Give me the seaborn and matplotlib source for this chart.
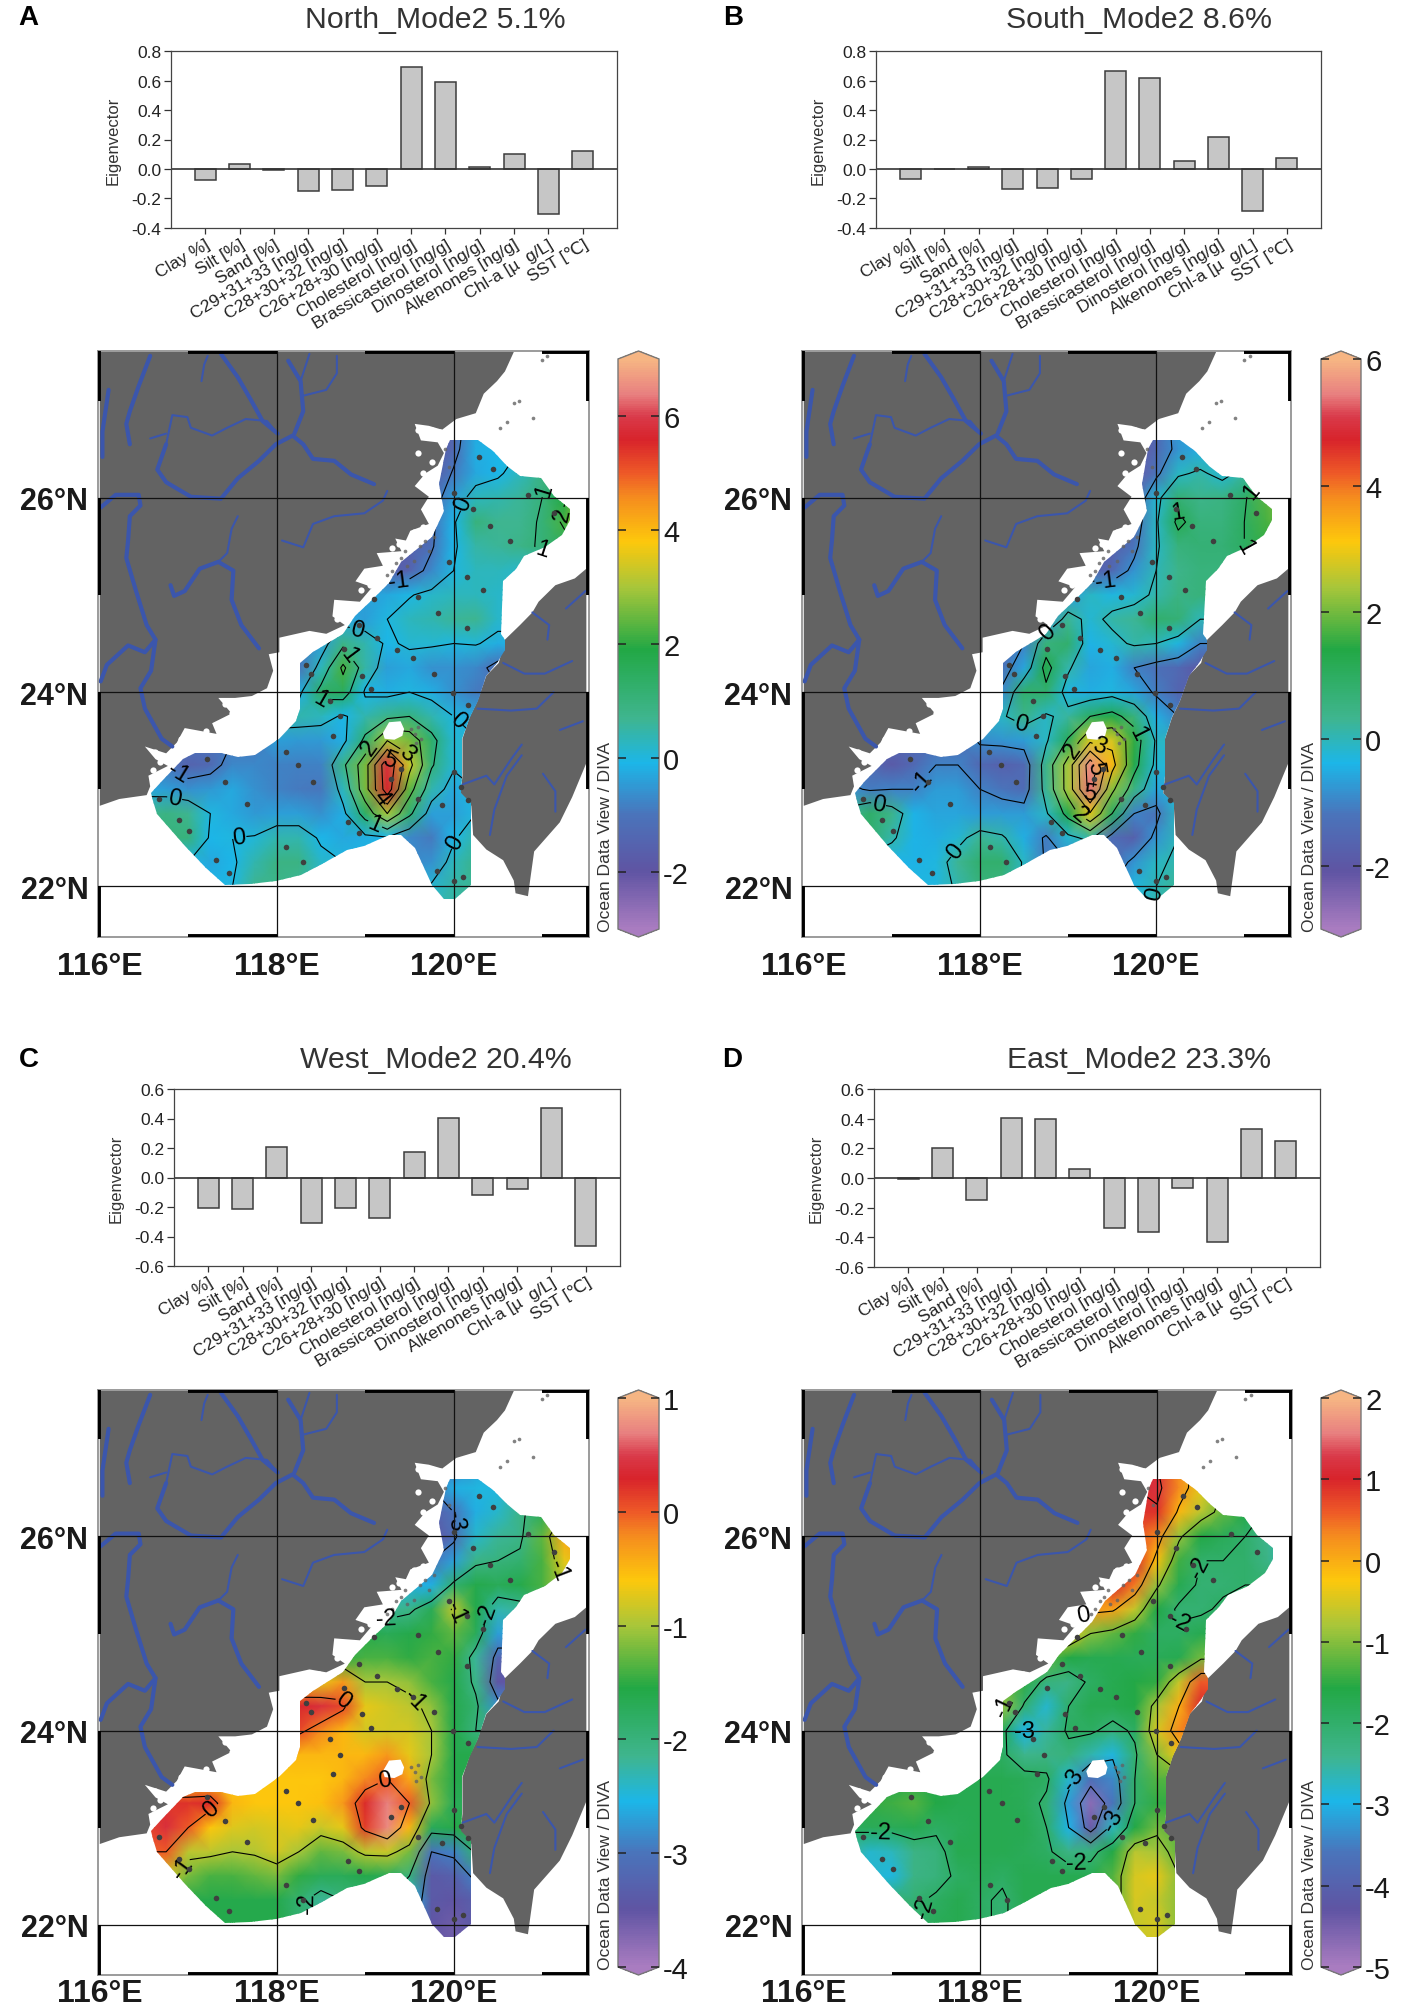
import matplotlib
matplotlib.use('Agg')
import matplotlib.pyplot as plt
import numpy as np
import pandas as pd
import seaborn as sns
from matplotlib.cm import ScalarMappable
from matplotlib.colors import LinearSegmentedColormap, Normalize
from matplotlib.patches import Polygon

sns.set_style('white')
plt.rcParams['font.family'] = ['Liberation Sans', 'DejaVu Sans']
plt.rcParams['axes.unicode_minus'] = False

W, H = 1417, 2015

# Bar charts
variables = ['Clay %]', 'Silt [%]', 'Sand [%]', 'C29+31+33 [ng/g]', 'C28+30+32 [ng/g]',
             'C26+28+30 [ng/g]', 'Cholesterol [ng/g]', 'Brassicasterol [ng/g]',
             'Dinosterol [ng/g]', 'Alkenones [ng/g]', 'Chl-a [µ  g/L]', 'SST [℃]']
north_bars = [-0.075, 0.035, -0.008, -0.147, -0.143, -0.113, 0.69, 0.59, 0.013, 0.102, -0.305, 0.122]
south_bars = [-0.065, 0.002, 0.015, -0.133, -0.127, -0.07, 0.667, 0.615, 0.052, 0.217, -0.283, 0.077]
west_bars = [-0.21, -0.215, 0.205, -0.31, -0.21, -0.275, 0.175, 0.405, -0.12, -0.075, 0.47, -0.465]
east_bars = [-0.01, 0.205, -0.145, 0.405, 0.40, 0.06, -0.34, -0.365, -0.07, -0.43, 0.33, 0.25]

# Field values, rows from north to south
grid_lon = [116.5, 116.75, 117, 117.25, 117.5, 117.75, 118, 118.25, 118.5, 118.75, 119,
            119.25, 119.5, 119.75, 120, 120.25, 120.5, 120.75, 121, 121.25, 121.5]
grid_lat = [26.75, 26.5, 26.25, 26, 25.75, 25.5, 25.25, 25, 24.75, 24.5, 24.25, 24,
            23.75, 23.5, 23.25, 23, 22.75, 22.5, 22.25, 22, 21.75]

north_field = [
    [-1, -1, -1, -1, -1, -1, -1, -1, -1, -1, -1, -1.5, -2, -2, -1.5, -.3, 0, 0, 0, 0, 0],
    [-1, -1, -1, -1, -1, -1, -1, -1, -1, -1, -1, -1.5, -2, -2, -1.3, -.2, -.1, 0, .3, .6, 1],
    [-1, -1, -1, -1, -1, -1, -1, -1, -1, -1, -1, -1.5, -1.8, -1.8, -.9, -.3, -.1, .3, .9, 1.2, 2],
    [-1, -1, -1, -1, -1, -1, -1, -1, -1, -1, -1, -1.5, -1.6, -1.5, -.4, .3, .4, .6, 1, 1.9, 3],
    [-1, -1, -1, -1, -1, -1, -1, -1, -1, -1, -1, -1.5, -1.5, -1.2, -.1, 1, .7, .7, 1.1, 2.2, 3.5],
    [-1, -1, -1, -1, -1, -1, -1, -1, -1, -1, -1.5, -2, -1.6, -1.1, -.1, .5, .6, .8, 1.1, 1.5, 1.5],
    [-1, -1, -1, -1, -1, -1, -1, -1, -1, -1, -1.2, -1.6, -1.5, -.7, 0, .3, .3, .2, .2, .2, .2],
    [-.5, -.5, -.5, -.5, -.5, -.5, -.5, -.5, -.5, -.5, -.4, -.3, -.05, .2, .3, .3, .2, .2, .2, .2, .2],
    [-.3, -.3, -.3, -.3, -.3, -.3, -.3, -.3, -.3, -.3, -.4, 0, .3, .4, .6, .7, .2, .2, .2, .2, .2],
    [-.8, -.8, -.8, -.8, -.8, -.8, -.8, -.8, -.4, .8, .4, -.1, .1, .1, 0, .05, -.2, -.2, -.2, -.2, -.2],
    [-1, -1, -1, -1, -1, -1, -1, -1, .3, 2.2, .5, -.4, -.3, -.6, -.6, -.7, -1.3, -1.3, -1.3, -1.3, -1.3],
    [-.2, -.2, -.2, -.2, -.2, -.2, -.2, -.2, 1.3, 1.5, -.1, -.2, 0, -.2, -.6, -.9, -.9, -.9, -.9, -.9, -.9],
    [.4, .4, .4, .4, .4, .4, .4, .4, .3, -.1, .4, .8, 1, .4, 0, -.3, -.3, -.3, -.3, -.3, -.3],
    [-1, -1, -1, -1, -1, -1, -.4, -.5, -.5, -.2, 1.2, 3, 2.6, 1.3, .1, .05, .05, .05, .05, .05, .05],
    [-1, -1, -1.5, -1.3, -.7, -.7, -.8, -.85, -.8, .8, 2.6, 5.8, 3.3, 1.1, .1, .1, .1, .1, .1, .1, .1],
    [-.3, -.4, -.6, -.5, -.3, -.6, -.8, -.9, -.95, .3, 2.6, 5.6, 2.4, .4, -.3, 0, 0, 0, 0, 0, 0],
    [.7, .9, .7, 0, -.3, -.5, -.4, -.4, -.6, -.2, 1.4, 3, 1.2, -.4, -.4, 0, 0, 0, 0, 0, 0],
    [1, 1, 1, -.1, 0, .05, .4, .4, -.1, -.3, -.2, -.1, -.7, -.9, -.1, .5, .5, .5, .5, .5, .5],
    [0, 0, 0, -.3, -.1, .4, .9, .9, .2, 0, 0, 0, -.7, -.6, .3, .8, .8, .8, .8, .8, .8],
    [0, 0, 0, -.1, 0, .7, .8, .6, .3, 0, 0, 0, 0, .1, .5, .7, .7, .7, .7, .7, .7],
    [0, 0, 0, -.1, 0, .7, .8, .6, .3, 0, 0, 0, 0, .4, .5, .7, .7, .7, .7, .7, .7],
]

south_field = [
    [-1, -1, -1, -1, -1, -1, -1, -1, -1, -1, -1, -1.5, -2, -2.3, -1.5, -.7, -.5, -.3, -.3, -.3, -.3],
    [-1, -1, -1, -1, -1, -1, -1, -1, -1, -1, -1, -1.5, -2, -2.2, -1.5, -.8, -.5, -.3, 0, .3, .3],
    [-1, -1, -1, -1, -1, -1, -1, -1, -1, -1, -1, -1.5, -2, -2.2, -1.2, -.1, .1, -.2, .2, 1, 2],
    [-1, -1, -1, -1, -1, -1, -1, -1, -1, -1, -1, -1.5, -1.8, -1.8, -.2, .7, .4, .5, .9, 1.8, 2.5],
    [-1, -1, -1, -1, -1, -1, -1, -1, -1, -1, -1, -1.5, -1.6, -1.5, -.1, 1.2, .6, .6, 1, 1.7, 2],
    [-1, -1, -1, -1, -1, -1, -1, -1, -1, -1, -1.5, -2, -1.8, -1.2, -.1, .6, .7, .7, 1, 1.5, 1.5],
    [-1, -1, -1, -1, -1, -1, -1, -1, -1, -1, -1.1, -1.7, -1.5, -.8, 0, .4, .6, .6, .6, .6, .6],
    [-.8, -.8, -.8, -.8, -.8, -.8, -.8, -.8, -.8, -.8, -.7, -.1, -.3, -.2, .1, .5, .6, .6, .6, .6, .6],
    [-.8, -.8, -.8, -.8, -.8, -.8, -.8, -.8, -.8, -.8, .3, -.2, .15, .3, .8, .7, 0, 0, 0, 0, 0],
    [-1.5, -1.5, -1.5, -1.5, -1.5, -1.5, -1.5, -1.5, -1, .6, .8, -.4, -.2, .1, 0, -.3, -1, -1, -1, -1, -1],
    [-1.3, -1.3, -1.3, -1.3, -1.3, -1.3, -1.3, -1.3, -.6, 1.3, .1, -.6, -.5, -1, -1.3, -1.5, -2, -2, -2, -2, -2],
    [-.9, -.9, -.9, -.9, -.9, -.9, -.9, -.9, .8, .8, -.3, -.5, -.3, -.6, -1.1, -1.6, -1.6, -1.6, -1.6, -1.6, -1.6],
    [-.1, -.1, -.1, -.1, -.1, -.1, -.1, -.1, .4, -.1, .2, 1, 1.3, .6, -.5, -1, -1, -1, -1, -1, -1],
    [-1.5, -1.5, -1.5, -1.5, -1.5, -1.5, -.9, -.8, -.7, -.1, 1.1, 2.8, 2.8, 1.5, -.1, -.1, -.1, -.1, -.1, -.1, -.1],
    [-1.5, -1.5, -1.9, -1.5, -1, -1, -1.5, -1.7, -1.5, .4, 2.4, 5.6, 3.3, 1.3, -.2, -.3, -.3, -.3, -.3, -.3, -.3],
    [-.8, -1.1, -1, -1, -.7, -.7, -1, -1.2, -1.4, .3, 2.4, 5.4, 2.2, .5, -.6, -.3, -.3, -.3, -.3, -.3, -.3],
    [.3, .9, .4, -.4, -.6, -.6, -.7, -.7, -.7, -.1, 1.3, 2.9, 1, -1, -1.2, -.1, -.1, -.1, -.1, -.1, -.1],
    [.8, .8, .1, -.4, -.5, -.2, .3, .1, -.5, -1.1, -.2, .2, -1.4, -1.7, -.8, 0, 0, 0, 0, 0, 0],
    [-.4, -.4, -.4, -.4, -.3, .3, .8, .8, -.1, -1.1, -1, -1, -1.5, -.8, -.1, .1, .1, .1, .1, .1, .1],
    [-.3, -.3, -.3, -.3, -.3, .1, .6, .5, -.1, -1, -1, -1, -1, -.3, 0, .3, .3, .3, .3, .3, .3],
    [-.3, -.3, -.3, -.3, -.3, .1, .6, .5, -.1, -1, -1, -1, -1, -.3, .1, .3, .3, .3, .3, .3, .3],
]

west_field = [
    [-2, -2, -2, -2, -2, -2, -2, -2, -2, -2, -2, -2, -3, -3, -3, -2.7, -2.5, -2.5, -2, -2, -2],
    [-2, -2, -2, -2, -2, -2, -2, -2, -2, -2, -2, -2, -3, -3, -2.6, -2.5, -2.5, -2.2, -1.6, -1.6, -1.6],
    [-2, -2, -2, -2, -2, -2, -2, -2, -2, -2, -2, -2, -3, -3.3, -3, -2.6, -2.4, -2.1, -1.7, -1, -.3],
    [-2, -2, -2, -2, -2, -2, -2, -2, -2, -2, -2, -2, -3.2, -3.5, -3.1, -2.4, -2.2, -2.1, -1.3, -.4, -.2],
    [-2, -2, -2, -2, -2, -2, -2, -2, -2, -2, -2, -2, -3, -3, -2.7, -2.1, -2, -1.9, -1.4, -.7, -.5],
    [-2, -2, -2, -2, -2, -2, -2, -2, -2, -2, -2.5, -2.5, -2.6, -2.6, -1.9, -1.6, -1.7, -1.6, -1.4, -1, -1],
    [-2, -2, -2, -2, -2, -2, -2, -2, -2, -2, -2.2, -2.2, -2.1, -1.7, -.9, -1.6, -2.3, -2.2, -2, -2, -2],
    [-2, -2, -2, -2, -2, -2, -2, -2, -2, -2, -1.6, -1.7, -1.6, -1.5, -1.3, -1.7, -2.7, -2.7, -2.7, -2.7, -2.7],
    [-1.5, -1.5, -1.5, -1.5, -1.5, -1.5, -1.5, -1.5, -1.5, -1.5, -1.4, -1.4, -1.5, -1.4, -1.5, -2.2, -3.2, -3.2, -3.2, -3.2, -3.2],
    [-.5, -.5, -.5, -.5, -.5, -.5, -.5, -.5, -.7, -.3, -1, -1, -1.1, -1.4, -1.6, -2.1, -3.5, -3.5, -3.5, -3.5, -3.5],
    [.3, .3, .3, .3, .3, .3, .3, .3, .4, .1, -.7, -.8, -.9, -1.1, -1.6, -1.9, -2.8, -2.8, -2.8, -2.8, -2.8],
    [.1, .1, .1, .1, .1, .1, .1, .1, -.2, -.5, -.8, -.8, -.8, -1, -1.6, -2, -2, -2, -2, -2, -2],
    [-.5, -.5, -.5, -.5, -.5, -.5, -.5, -.5, -.5, -.5, -.5, -.3, -.7, -1, -1.6, -1.6, -1.6, -1.6, -1.6, -1.6, -1.6],
    [-.6, -.6, -.6, -.6, -.6, -.6, -.6, -.6, -.6, -.5, -.2, 0, -.4, -1.2, -1.6, -1.6, -1.6, -1.6, -1.6, -1.6, -1.6],
    [.2, .2, .2, .25, -.5, -.6, -.6, -.6, -.55, -.3, .25, .7, 0, -1.1, -1.7, -1.7, -1.7, -1.7, -1.7, -1.7, -1.7],
    [.1, .4, 0, -.6, -.75, -.8, -.75, -.7, -.85, -.7, .15, .75, -.5, -1.7, -1.6, -1.5, -1.5, -1.5, -1.5, -1.5, -1.5],
    [0, 0, -.9, -.9, -1, -.95, -.8, -1, -1.3, -1.2, -.9, -.85, -1.2, -3, -2.9, -1.9, -1.9, -1.9, -1.9, -1.9, -1.9],
    [-.8, -.8, -1.2, -1.4, -1.4, -1.3, -1.2, -1.5, -1.7, -1.7, -1.6, -1.7, -2, -3.4, -3.3, -2.9, -2.9, -2.9, -2.9, -2.9, -2.9],
    [-1.6, -1.6, -1.6, -1.6, -1.6, -1.6, -1.6, -1.9, -2.2, -2, -2, -2, -2.5, -3.4, -3.5, -3.3, -3.3, -3.3, -3.3, -3.3, -3.3],
    [-1.6, -1.6, -1.6, -1.6, -1.6, -1.6, -1.6, -1.9, -2, -2, -2, -2, -2.5, -3.5, -3.6, -3.4, -3.4, -3.4, -3.4, -3.4, -3.4],
    [-1.6, -1.6, -1.6, -1.6, -1.6, -1.6, -1.6, -1.9, -2, -2, -2, -2, -2.5, -3.5, -3.6, -3.4, -3.4, -3.4, -3.4, -3.4, -3.4],
]

east_field = [
    [0, 0, 0, 0, 0, 0, 0, 0, 0, 0, 0, 0, 1, 1.2, 1, .3, -.3, -1, -1, -1, -1],
    [0, 0, 0, 0, 0, 0, 0, 0, 0, 0, 0, 0, 1, 1, 1.2, .3, -.4, -1, -1.3, -1.3, -1.3],
    [0, 0, 0, 0, 0, 0, 0, 0, 0, 0, 0, 0, 1, .9, .9, -.1, -.7, -1.2, -1.6, -2.1, -2.6],
    [0, 0, 0, 0, 0, 0, 0, 0, 0, 0, 0, 0, 1, .7, .3, -.9, -1.6, -1.8, -2, -2.4, -2.8],
    [0, 0, 0, 0, 0, 0, 0, 0, 0, 0, 0, 0, 1, 1, -.2, -1.4, -2, -2, -2, -2.3, -2.7],
    [0, 0, 0, 0, 0, 0, 0, 0, 0, 0, 0, 0, 1, .4, -.9, -1.7, -2.1, -2.1, -2, -2, -2],
    [0, 0, 0, 0, 0, 0, 0, 0, 0, 0, .2, .2, .1, -.6, -1.6, -2.1, -2.1, -1.9, -1.9, -1.9, -1.9],
    [-.3, -.3, -.3, -.3, -.3, -.3, -.3, -.3, -.3, -.3, -.4, -1, -1.2, -1.5, -1.9, -1.9, -1.7, -1.7, -1.7, -1.7, -1.7],
    [-1.2, -1.2, -1.2, -1.2, -1.2, -1.2, -1.2, -1.2, -1.2, -1.2, -1.6, -1.7, -1.7, -1.8, -1.8, -1.7, -1.1, -1.1, -1.1, -1.1, -1.1],
    [-1.2, -1.2, -1.2, -1.2, -1.2, -1.2, -1.2, -1.2, -1.5, -2.2, -2.3, -1.9, -1.7, -1.6, -1.5, -.6, .6, .6, .6, .6, .6],
    [-.9, -.9, -.9, -.9, -.9, -.9, -.9, -.9, -2.1, -2.8, -2, -1.7, -1.7, -1.6, -.8, 0, 1, 1, 1, 1, 1],
    [-1.8, -1.8, -1.8, -1.8, -1.8, -1.8, -1.8, -1.8, -3, -2.5, -1.9, -1.9, -2.2, -1.9, -.5, .3, .5, .5, .5, .5, .5],
    [-1.9, -1.9, -1.9, -1.9, -1.9, -1.9, -1.9, -1.9, -2.4, -2.3, -2.2, -2.6, -2.9, -2.1, -1, -.3, -.3, -.3, -.3, -.3, -.3],
    [-1.7, -1.7, -1.7, -1.7, -1.7, -1.7, -1.7, -1.7, -1.8, -1.9, -2.8, -3.7, -3.4, -2, -1.3, -1.3, -1.3, -1.3, -1.3, -1.3, -1.3],
    [-1.5, -1.5, -1.4, -1.3, -1.6, -1.7, -1.7, -1.7, -1.8, -2.1, -3.2, -4.7, -3.6, -2, -1.5, -1.5, -1.5, -1.5, -1.5, -1.5, -1.5],
    [-1.9, -1.8, -1.8, -1.7, -1.9, -1.8, -1.7, -1.7, -1.7, -2, -3, -4.4, -2.7, -1.6, -1.1, -1.2, -1.2, -1.2, -1.2, -1.2, -1.2],
    [-2.4, -2.8, -2.7, -2.3, -2.2, -1.7, -1.7, -1.7, -1.8, -1.9, -2.3, -2.2, -1.6, -.7, -.8, -1.2, -1.2, -1.2, -1.2, -1.2, -1.2],
    [-2.8, -2.8, -2.9, -2.3, -2.2, -1.9, -1.8, -1.9, -1.7, -1.7, -1.7, -1.7, -1.3, -.5, -.4, -1, -1, -1, -1, -1, -1],
    [-2.1, -2.1, -2.1, -2.1, -1.9, -1.7, -1.9, -2.1, -1.7, -1.7, -1.7, -1.7, -1.3, -.5, -.6, -1, -1, -1, -1, -1, -1],
    [-2.1, -2.1, -2.1, -2.1, -1.8, -1.7, -1.9, -2.1, -1.7, -1.7, -1.7, -1.7, -1.3, -.6, -.5, -1, -1, -1, -1, -1, -1],
    [-2.1, -2.1, -2.1, -2.1, -1.8, -1.7, -1.9, -2.1, -1.7, -1.7, -1.7, -1.7, -1.3, -.6, -.5, -1, -1, -1, -1, -1, -1],
]

# Sampling stations
station_lon = [120.29, 120.45, 120.0, 120.84, 121.13, 120.22, 120.41, 120.64, 119.95, 120.15, 120.33, 119.6,
               119.1, 119.82, 120.15, 118.93, 119.13, 118.76, 119.36, 119.54, 118.33, 118.39, 118.96, 119.78,
               119.07, 119.99, 118.6, 120.16, 118.72, 118.64, 118.1, 118.24, 118.41, 117.21, 117.41, 119.29,
               116.67, 117.66, 119.6, 119.87, 116.89, 117.01, 118.81, 118.93, 118.11, 118.3, 117.31, 117.46,
               119.81, 120.0, 120.11, 119.4, 120.08, 120.0, 120.16]
station_lat = [26.42, 26.3, 26.05, 26.03, 25.84, 25.88, 25.71, 25.55, 25.34, 25.18, 25.05, 24.98,
               24.96, 24.81, 24.66, 24.69, 24.56, 24.44, 24.43, 24.35, 24.28, 24.19, 24.17, 24.19,
               24.03, 23.99, 23.91, 23.87, 23.75, 23.55, 23.38, 23.25, 23.08, 23.31, 23.07, 23.11,
               22.9, 22.85, 22.9, 22.84, 22.68, 22.57, 22.66, 22.55, 22.41, 22.25, 22.27, 22.14,
               22.16, 22.06, 22.1, 23.21, 23.02, 23.18, 22.89]

# Coast outlines
china_lon = [116, 120.68, 120.58, 120.49, 120.34, 120.25, 120.03, 119.87, 119.72, 119.56, 119.63, 119.82,
             119.89, 119.82, 119.68, 119.56, 119.72, 119.63, 119.72, 119.51, 119.46, 119.34, 119.41, 119.13,
             119.2, 118.99, 118.89, 119.08, 118.94, 118.65, 118.63, 118.77, 118.56, 118.37, 118.03, 118.03,
             117.91, 117.96, 117.89, 117.72, 117.53, 117.34, 117.49, 117.27, 117.32, 116.96, 116.87, 116.75,
             116.51, 116.63, 116.77, 116.55, 116.57, 116.53, 116.22, 116]
china_lat = [27.5, 27.5, 27.3, 27.2, 27.07, 26.87, 26.81, 26.7, 26.74, 26.76, 26.59, 26.57,
             26.46, 26.33, 26.25, 26.12, 26.01, 25.88, 25.73, 25.66, 25.56, 25.58, 25.45, 25.43,
             25.3, 25.27, 25.14, 25.08, 24.93, 24.95, 24.78, 24.69, 24.6, 24.63, 24.56, 24.41,
             24.39, 24.22, 24.04, 23.96, 23.94, 23.94, 23.78, 23.68, 23.57, 23.63, 23.48, 23.37,
             23.44, 23.31, 23.24, 23.14, 23.03, 22.94, 22.9, 22.83]
taiwan_lon = [121.5, 121.37, 121.15, 120.96, 120.89, 120.75, 120.58, 120.51, 120.37, 120.27, 120.18, 120.1,
              120.1, 120.08, 120.2, 120.22, 120.37, 120.56, 120.68, 120.7, 120.84, 120.87, 120.91, 121.2,
              121.34, 121.5]
taiwan_lat = [25.27, 25.17, 25.1, 24.93, 24.82, 24.69, 24.54, 24.3, 24.17, 23.91, 23.74, 23.52,
              23.14, 22.96, 22.83, 22.53, 22.38, 22.27, 22.06, 21.93, 21.9, 22.1, 22.36, 22.66,
              22.92, 23.27]

# Outline of the gridded area
area_lon = [119.96, 120.27, 120.44, 120.6, 120.75, 120.99, 121.13, 121.31, 121.31, 121.22, 121.03, 120.8,
            120.7, 120.56, 120.53, 120.58, 120.58, 120.49, 120.37, 120.27, 120.18, 120.1, 120.1, 120.08,
            120.2, 120.2, 120.01, 119.89, 119.75, 119.56, 119.41, 119.27, 118.99, 118.8, 118.51, 118.27,
            117.99, 117.7, 117.41, 117.2, 116.96, 116.65, 116.6, 116.58, 116.7, 116.94, 117.08, 117.37,
            117.56, 117.75, 118.03, 118.22, 118.26, 118.26, 118.41, 118.75, 118.89, 119.08, 119.27, 119.41,
            119.75, 119.89, 119.84, 119.91]
area_lat = [26.59, 26.59, 26.48, 26.33, 26.22, 26.2, 26.02, 25.88, 25.77, 25.62, 25.49, 25.4,
            25.27, 25.14, 24.6, 24.54, 24.43, 24.3, 24.17, 23.91, 23.74, 23.52, 23.14, 22.96,
            22.86, 22.01, 21.87, 21.87, 22.01, 22.4, 22.53, 22.53, 22.42, 22.38, 22.23, 22.12,
            22.06, 22.03, 22.02, 22.19, 22.42, 22.75, 22.88, 22.96, 23.09, 23.31, 23.37, 23.37,
            23.33, 23.35, 23.52, 23.7, 23.83, 24.3, 24.41, 24.6, 24.78, 24.95, 25.12, 25.34,
            25.6, 25.86, 26.14, 26.5]
penghu_lon = [119.2, 119.27, 119.4, 119.44, 119.42, 119.33, 119.22]
penghu_lat = [23.58, 23.69, 23.7, 23.62, 23.55, 23.51, 23.52]
islet_lon = [119.52, 119.56, 119.6, 119.63, 119.58, 119.45, 119.4, 119.62, 119.68, 119.72, 119.78, 119.55, 119.47,
             119.35, 119.3, 119.25, 119.9, 119.95, 120.68, 120.74, 120.9, 121.06, 121.0, 120.6, 120.52]
islet_lat = [23.62, 23.57, 23.64, 23.52, 23.48, 25.45, 25.38, 25.5, 25.55, 25.45, 25.6, 25.35, 25.3,
             25.33, 25.25, 25.2, 26.5, 26.32, 26.98, 27.0, 26.82, 27.46, 27.42, 26.78, 26.72]
# small bays and channels along the Fujian coast
bay_lon = [119.6, 119.68, 119.76, 119.85, 119.6, 119.75, 119.65, 119.72, 119.55, 119.65, 119.3, 119.2, 119.38,
           119.0, 118.95, 119.05, 118.72, 118.8, 118.68, 118.1, 118.22, 118.35, 118.48, 118.15, 118.3,
           117.42, 117.5, 117.55, 117.0, 117.1, 117.2, 116.92, 116.62, 116.68, 116.6]
bay_lat = [26.7, 26.66, 26.7, 26.68, 26.46, 26.37, 26.25, 26.18, 25.65, 25.7, 25.48, 25.4, 25.52,
           25.2, 25.05, 25.1, 24.88, 24.82, 24.75, 24.5, 24.55, 24.47, 24.58, 24.44, 24.42,
           23.88, 23.78, 23.84, 23.58, 23.54, 23.6, 23.52, 23.38, 23.28, 23.2]

thick_rivers = [
    ([116.57, 116.44, 116.34, 116.3, 116.34], [27.46, 27.15, 26.89, 26.76, 26.55]),
    ([116.03, 116.03, 116.1], [26.42, 26.68, 27.11]),
    ([119.1, 118.84, 118.65, 118.41, 118.3, 118.18, 117.99, 117.8, 117.56, 117.37, 117.03, 116.75, 116.65, 116.75],
     [26.14, 26.24, 26.38, 26.4, 26.55, 26.64, 26.55, 26.38, 26.2, 25.99, 26.01, 26.16, 26.29, 26.55]),
    ([117.37, 117.56, 117.7, 117.84, 118.01], [27.48, 27.24, 27.02, 26.79, 26.66]),
    ([118.13, 118.27, 118.3, 118.2], [27.41, 27.2, 26.89, 26.66]),
    ([116.01, 116.18, 116.44, 116.46, 116.34, 116.32, 116.3, 116.41, 116.53, 116.63, 116.58, 116.46, 116.51, 116.7, 116.82],
     [25.9, 26.03, 26.03, 25.92, 25.81, 25.56, 25.38, 25.04, 24.69, 24.54, 24.22, 24.04, 23.83, 23.52, 23.44]),
    ([116.01, 116.08, 116.32, 116.51, 116.63], [24.11, 24.28, 24.48, 24.41, 24.54]),
    ([117.34, 117.13, 116.96, 116.84, 116.8], [25.34, 25.27, 25.04, 24.99, 25.1]),
    ([117.34, 117.51, 117.49, 117.6, 117.8], [25.34, 25.25, 24.95, 24.69, 24.45]),
]
thin_rivers = [
    ([116.75, 116.82, 116.99, 117.03, 117.27, 117.44, 117.65, 117.89, 118.01],
     [26.55, 26.85, 26.83, 26.72, 26.64, 26.72, 26.81, 26.79, 26.66]),
    ([116.57, 116.75], [26.61, 26.66]),
    ([117.15, 117.18, 117.22], [27.2, 27.37, 27.46]),
    ([118.37, 118.27], [27.48, 27.2]),
    ([118.68, 118.68, 118.56, 118.3], [27.46, 27.28, 27.11, 27.05]),
    ([117.56, 117.49, 117.44, 117.34], [25.81, 25.68, 25.43, 25.34]),
    ([118.06, 118.3, 118.41, 118.65, 118.99, 119.2, 119.25], [25.56, 25.49, 25.73, 25.81, 25.84, 25.97, 26.07]),
    ([120.56, 120.8, 121.03, 121.34], [24.3, 24.19, 24.19, 24.32]),
    ([120.27, 120.65, 120.94, 121.13], [23.83, 23.81, 23.83, 24.0]),
    ([121.2, 121.46], [23.61, 23.7]),
    ([120.1, 120.37, 120.46, 120.65, 120.77], [23.05, 23.14, 23.05, 23.31, 23.46]),
    ([120.41, 120.46, 120.6, 120.77], [22.53, 22.79, 23.14, 23.35]),
    ([121.01, 121.15, 121.15], [23.16, 22.98, 22.77]),
    ([120.89, 121.08, 121.06], [24.82, 24.69, 24.54]),
    ([121.27, 121.49], [24.86, 25.04]),
]

# Contour label spots
north_labels = [(119.39, 25.04), (118.92, 24.69), (118.8, 24.37), (118.44, 23.89), (119.96, 23.63), (119.01, 23.46),
                (119.52, 23.45), (119.26, 23.29), (119.2, 22.93), (119.13, 22.68), (117.56, 22.62), (119.94, 22.5),
                (116.83, 22.82), (116.87, 23.16), (120.96, 26.1), (120.21, 25.9), (121.27, 25.82), (121.03, 25.55)]
south_labels = [(120.25, 25.99), (119.43, 25.08), (118.88, 24.5), (118.47, 23.68), (119.83, 23.6), (119.03, 23.42),
                (119.36, 23.45), (119.27, 23.23), (119.24, 22.96), (119.13, 22.73), (117.3, 23.11), (116.83, 22.75),
                (117.79, 22.32), (119.97, 21.93), (121.18, 26.0), (120.9, 25.49)]
west_labels = [(119.98, 26.16), (120.37, 25.2), (120.01, 25.23), (119.23, 25.12), (119.63, 24.38), (118.79, 24.38),
               (119.2, 23.52), (117.25, 23.2), (116.94, 22.58), (118.22, 22.16), (121.03, 25.6)]
east_labels = [(120.44, 25.7), (120.13, 24.93), (118.5, 23.87), (119.03, 23.52), (119.45, 23.1), (119.09, 22.62),
               (116.86, 22.68), (117.38, 22.18), (119.18, 25.12), (118.36, 24.25)]

odv = LinearSegmentedColormap.from_list('odv', [
    (0.0, '#a97cc0'), (0.10, '#5f54a3'), (0.20, '#4a74bb'), (0.29, '#1cb6e8'), (0.37, '#3fb58e'),
    (0.49, '#22a845'), (0.60, '#a8c63a'), (0.68, '#fdc80c'), (0.76, '#f58a1f'), (0.80, '#ee5a27'),
    (0.86, '#d8232b'), (0.90, '#d93a4a'), (0.94, '#e88080'), (1.0, '#f6b583')])

fig = plt.figure(figsize=(W / 100, H / 100), dpi=100)


def px_axes(left, top, right, bottom):
    return fig.add_axes([left / W, 1 - bottom / H, (right - left) / W, (bottom - top) / H])


def draw_bars(box, values, ylim, yticks):
    ax = px_axes(*box)
    df = pd.DataFrame({'variable': variables, 'value': values})
    sns.barplot(data=df, x='variable', y='value', color='#c6c6c6', saturation=1, width=0.61,
                edgecolor='#3c3c3c', linewidth=1.1, ax=ax)
    ax.axhline(0, color='#333333', lw=1.2)
    ax.set_xlim(-1, 12)
    ax.set_ylim(*ylim)
    ax.set_yticks(yticks)
    ax.set_yticklabels([f'{t:.1f}' for t in yticks])
    ax.set_xlabel('')
    ax.set_ylabel('Eigenvector', fontsize=12, color='#333333', labelpad=8)
    ax.tick_params(axis='y', left=True, length=5, width=0.9, labelsize=12.5, pad=2, color='#333333', labelcolor='#222222')
    ax.tick_params(axis='x', bottom=True, length=4, width=0.9, color='#333333', pad=2)
    plt.setp(ax.get_xticklabels(), rotation=31, ha='right', va='top', rotation_mode='anchor',
             fontsize=12.6, color='#222222')
    for s in ax.spines.values():
        s.set_color('#444444')
        s.set_linewidth(0.9)
        s.set_visible(True)
    return ax


def draw_map(box, field, vmin, vmax, labels, xpad):
    ax = px_axes(*box)
    ax.set_xlim(115.98, 121.53)
    ax.set_ylim(21.48, 27.51)
    ax.fill(china_lon, china_lat, color='#636363', lw=0, zorder=1)
    ax.fill(taiwan_lon, taiwan_lat, color='#636363', lw=0, zorder=1)
    for lon, lat in thick_rivers:
        ax.plot(lon, lat, color='#3b56ac', lw=3, zorder=2, solid_capstyle='round')
    for lon, lat in thin_rivers:
        ax.plot(lon, lat, color='#3b56ac', lw=1.5, zorder=2)
    ax.scatter(bay_lon, bay_lat, s=20, marker='o', color='white', lw=0, zorder=2.5)

    values = np.array(field, dtype=float)
    clip = Polygon(np.column_stack([area_lon, area_lat]), closed=True, transform=ax.transData)
    mesh = ax.pcolormesh(grid_lon, grid_lat, values, shading='gouraud', cmap=odv, vmin=vmin, vmax=vmax, zorder=3)
    mesh.set_clip_path(clip)
    levels = np.arange(vmin, vmax + 1)
    cs = ax.contour(grid_lon, grid_lat, values, levels=levels, colors='black', linewidths=0.8,
                    linestyles='solid', zorder=4)
    cs.set_clip_path(clip)
    ax.fill(penghu_lon, penghu_lat, color='white', lw=0, zorder=5)
    ax.scatter(islet_lon, islet_lat, s=7, marker='o', color='#636363', lw=0, alpha=0.8, zorder=5)
    ax.clabel(cs, fmt='%d', fontsize=17, inline=True, inline_spacing=1, manual=labels)
    sns.scatterplot(x=station_lon, y=station_lat, color='#3f3f3f', s=16, linewidth=0, zorder=7, ax=ax)

    for g in [118, 120]:
        ax.axvline(g, color='#111111', lw=0.9, zorder=6)
    for g in [22, 24, 26]:
        ax.axhline(g, color='#111111', lw=0.9, zorder=6)

    # frame with alternating thick segments
    for a, b in [(117, 118), (119, 120), (121, 121.53)]:
        for y in [21.49, 27.5]:
            ax.plot([a, b], [y, y], color='black', lw=2.8, zorder=8, solid_capstyle='butt')
    for a, b in [(27, 27.51), (25, 26), (23, 24), (21.48, 22)]:
        for x in [115.99, 121.52]:
            ax.plot([x, x], [a, b], color='black', lw=2.8, zorder=8, solid_capstyle='butt')
    for s in ax.spines.values():
        s.set_color('#8a8a8a')
        s.set_linewidth(1.2)

    ax.set_xticks([116, 118, 120])
    ax.set_xticklabels(['116°E', '118°E', '120°E'], fontsize=23, fontweight='bold', color='#1a1a1a')
    ax.set_yticks([22, 24, 26])
    ax.set_yticklabels(['22°N', '24°N', '26°N'], fontsize=22, fontweight='bold', color='#1a1a1a')
    ax.tick_params(axis='x', length=0, pad=xpad)
    ax.tick_params(axis='y', length=0, pad=7)
    ax.grid(False)
    return ax


def draw_colorbar(box, vmin, vmax, ticks):
    cax = px_axes(*box)
    sm = ScalarMappable(norm=Normalize(vmin, vmax), cmap=odv)
    cb = fig.colorbar(sm, cax=cax, extend='both', extendfrac=0.014)
    cb.set_ticks(ticks)
    cb.set_ticklabels([str(t) for t in ticks])
    cb.ax.set_axisbelow(False)
    cb.ax.tick_params(direction='in', left=True, right=True, length=6, width=1.1, color='#222222',
                      labelsize=21, pad=3, labelcolor='#1a1a1a')
    cb.outline.set_edgecolor('#777777')
    cb.outline.set_linewidth(1)
    fig.text((box[0] - 12) / W, 1 - (box[3] - 6) / H, 'Ocean Data View / DIVA', rotation=90, fontsize=12.6,
             ha='center', va='bottom', color='#333333')


draw_bars((171, 52, 617, 229), north_bars, (-0.4, 0.8), [-0.4, -0.2, 0, 0.2, 0.4, 0.6, 0.8])
draw_bars((876, 52, 1321, 229), south_bars, (-0.4, 0.8), [-0.4, -0.2, 0, 0.2, 0.4, 0.6, 0.8])
draw_bars((174, 1090, 620, 1267), west_bars, (-0.6, 0.6), [-0.6, -0.4, -0.2, 0, 0.2, 0.4, 0.6])
draw_bars((874, 1090, 1320, 1268), east_bars, (-0.6, 0.6), [-0.6, -0.4, -0.2, 0, 0.2, 0.4, 0.6])

draw_map((98, 352, 589, 938), north_field, -3, 7, north_labels, 10)
draw_map((802, 352, 1291, 938), south_field, -3, 6, south_labels, 10)
draw_map((98, 1391, 589, 1976), west_field, -4, 1, west_labels, 2)
draw_map((802, 1391, 1292, 1976), east_field, -5, 2, east_labels, 2)

draw_colorbar((618, 352, 659, 938), -3, 7, [-2, 0, 2, 4, 6])
draw_colorbar((1321, 352, 1361, 938), -3, 6, [-2, 0, 2, 4, 6])
draw_colorbar((618, 1391, 659, 1976), -4, 1, [-4, -3, -2, -1, 0, 1])
draw_colorbar((1321, 1391, 1361, 1976), -5, 2, [-5, -4, -3, -2, -1, 0, 1, 2])

for text, x, y in [('North_Mode2 5.1%', 435, 20), ('South_Mode2 8.6%', 1139, 20),
                   ('West_Mode2 20.4%', 436, 1060), ('East_Mode2 23.3%', 1139, 1060)]:
    fig.text(x / W, 1 - y / H, text, fontsize=21.8, ha='center', va='center', color='#333333')
for text, x, y in [('A', 28, 18), ('B', 733, 18), ('C', 29, 1060), ('D', 732, 1060)]:
    fig.text(x / W, 1 - y / H, text, fontsize=20, fontweight='bold', ha='center', va='center', color='black')

fig.savefig('out.png', dpi=100, facecolor='white')
